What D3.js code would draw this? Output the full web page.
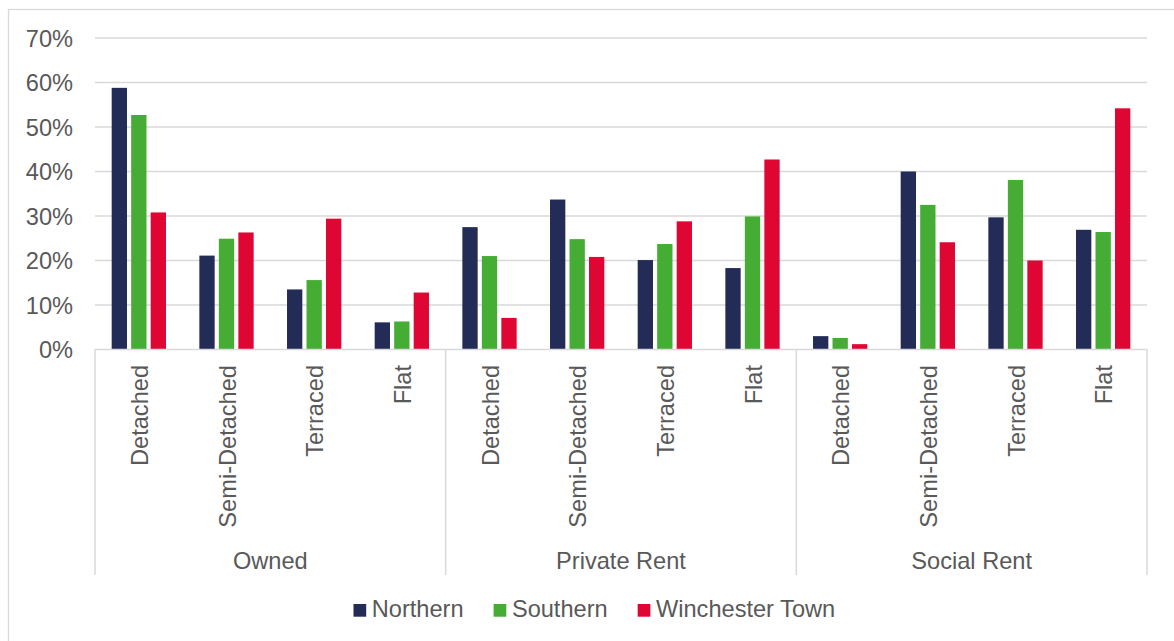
<!DOCTYPE html>
<html>
<head>
<meta charset="utf-8">
<script src="https://cdn.jsdelivr.net/npm/d3@7"></script>
<style>
  html, body { margin: 0; padding: 0; background: #ffffff; }
  svg { display: block; font-family: "Liberation Sans", Arial, sans-serif; }
</style>
</head>
<body>
<svg id="chart" width="1174" height="641"></svg>
<script>
// ---- Data ----
const groups = ["Owned", "Private Rent", "Social Rent"];
const types = ["Detached", "Semi-Detached", "Terraced", "Flat"];
const seriesNames = ["Northern", "Southern", "Winchester Town"];
const northern = [0.588, 0.211, 0.135, 0.061, 0.275, 0.337, 0.201, 0.183, 0.030, 0.400, 0.297, 0.269];
const southern = [0.527, 0.249, 0.156, 0.063, 0.210, 0.248, 0.237, 0.299, 0.026, 0.325, 0.381, 0.264];
const winchester = [0.308, 0.263, 0.294, 0.128, 0.071, 0.208, 0.288, 0.427, 0.012, 0.241, 0.200, 0.542];
const yTicks = [0, 0.1, 0.2, 0.3, 0.4, 0.5, 0.6, 0.7];
const colors = ["#232B57", "#45AD34", "#E00634"];

// ---- Build table ----
const categories = [];
groups.forEach(g => types.forEach(t => categories.push({group: g, type: t, key: g + "|" + t})));
const seriesValues = [northern, southern, winchester];

const svg = d3.select("#chart");
const textColor = "#595959";
const gridColor = "#D9D9D9";
const fontSize = 23.6;

// outer chart border
svg.append("rect").attr("x", 8.5).attr("y", 9.5).attr("width", 1180).attr("height", 660)
  .attr("fill", "none").attr("stroke", gridColor).attr("stroke-width", 1.3);

const plotLeft = 95, plotRight = 1147, plotTop = 38, plotBottom = 349.5;

const x0 = d3.scaleBand().domain(categories.map(d => d.key)).range([plotLeft, plotRight]).padding(0);
const xg = d3.scaleBand().domain(groups).range([plotLeft, plotRight]).padding(0);
const y = d3.scaleLinear().domain([0, 0.7]).range([plotBottom, plotTop]);
const innerW = 54.3;
const x1 = d3.scaleBand().domain(seriesNames).range([0, innerW]).paddingInner(0.215).paddingOuter(0);
const innerOffset = (x0.bandwidth() - innerW) / 2;

// gridlines
svg.append("g").selectAll("line").data(yTicks.filter(t => t > 0)).join("line")
  .attr("x1", plotLeft).attr("x2", plotRight)
  .attr("y1", d => y(d)).attr("y2", d => y(d))
  .attr("stroke", gridColor).attr("stroke-width", 1.3);

// y axis labels
const yAxis = d3.axisLeft(y).tickValues(yTicks).tickFormat(d3.format(".0%")).tickSize(0).tickPadding(0);
const yg = svg.append("g").attr("transform", `translate(73,0)`).call(yAxis);
yg.select(".domain").remove();
yg.selectAll("text").attr("fill", textColor).attr("font-size", fontSize)
  .attr("font-family", "Liberation Sans, Arial, sans-serif").attr("dy", "0.35em");

// bars
const series = seriesNames.map((name, i) => ({name, color: colors[i], values: seriesValues[i]}));
svg.append("g").selectAll("g").data(series).join("g")
  .attr("fill", d => d.color)
  .selectAll("rect").data(s => s.values.map((v, i) => ({v, cat: categories[i].key, name: s.name})))
  .join("rect")
  .attr("x", d => x0(d.cat) + innerOffset + x1(d.name))
  .attr("width", x1.bandwidth())
  .attr("y", d => y(d.v))
  .attr("height", d => plotBottom - y(d.v));

// category axis line
svg.append("line").attr("x1", plotLeft).attr("x2", plotRight)
  .attr("y1", plotBottom).attr("y2", plotBottom)
  .attr("stroke", gridColor).attr("stroke-width", 1.5);

// group separators
const bounds = groups.map(g => xg(g)).concat([plotRight]);
svg.append("g").selectAll("line").data(bounds).join("line")
  .attr("x1", d => d).attr("x2", d => d)
  .attr("y1", plotBottom).attr("y2", 575)
  .attr("stroke", gridColor).attr("stroke-width", 1.5);

// type labels (rotated)
svg.append("g").selectAll("text").data(categories).join("text")
  .attr("transform", d => `translate(${x0(d.key) + x0.bandwidth() / 2},365) rotate(-90)`)
  .attr("y", 9)
  .attr("text-anchor", "end")
  .attr("fill", textColor).attr("font-size", fontSize)
  .text(d => d.type);

// group labels
svg.append("g").selectAll("text").data(groups).join("text")
  .attr("x", d => xg(d) + xg.bandwidth() / 2)
  .attr("y", 569)
  .attr("text-anchor", "middle")
  .attr("fill", textColor).attr("font-size", fontSize)
  .text(d => d);

// legend
const legend = svg.append("g");
let lx = 353.5;
series.forEach(s => {
  legend.append("rect").attr("x", lx).attr("y", 604).attr("width", 12.7).attr("height", 12.7).attr("fill", s.color);
  const t = legend.append("text").attr("x", lx + 18.3).attr("y", 617)
    .attr("fill", textColor).attr("font-size", fontSize).text(s.name);
  lx += 18.3 + t.node().getComputedTextLength() + 30;
});
</script>
</body>
</html>
